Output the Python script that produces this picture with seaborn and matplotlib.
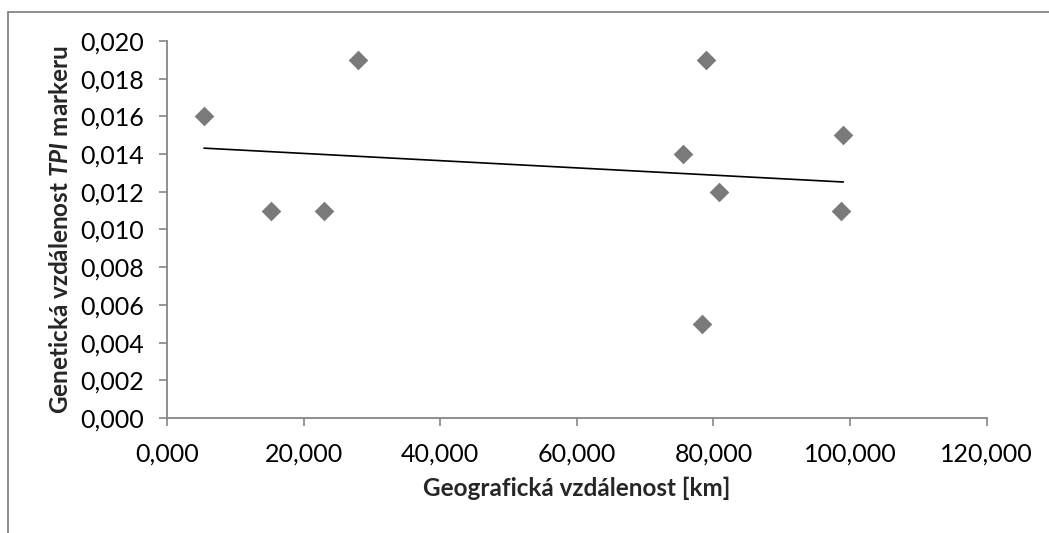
import matplotlib
matplotlib.use("Agg")
import matplotlib.pyplot as plt
import seaborn as sns
import pandas as pd
from matplotlib.ticker import FuncFormatter, MultipleLocator
from matplotlib.lines import Line2D

# Data (Czech decimal comma in labels)
geo_km = [5.42, 15.23, 22.99, 27.97, 78.92, 75.60, 80.82, 99.02, 98.73, 78.38]
gen_dist = [0.016, 0.011, 0.011, 0.019, 0.019, 0.014, 0.012, 0.015, 0.011, 0.005]
x_label = "Geografická vzdálenost [km]"
y_label_parts = ["Genetická vzdálenost ", "TPI", " markeru"]

df = pd.DataFrame({"x": geo_km, "y": gen_dist})

sns.set_theme(style="white")
FONT = "Lato"
plt.rcParams["font.family"] = [FONT, "DejaVu Sans"]
plt.rcParams["mathtext.fontset"] = "custom"
plt.rcParams["mathtext.bfit"] = f"{FONT}:italic:bold"
plt.rcParams["mathtext.bf"] = f"{FONT}:bold"
plt.rcParams["mathtext.rm"] = FONT
plt.rcParams["mathtext.it"] = f"{FONT}:italic"

fig = plt.figure(figsize=(10.49, 5.33), dpi=100)
ax = fig.add_axes([0.1592, 0.2158, 0.9406 - 0.1592, 0.9231 - 0.2158])

sns.regplot(data=df, x="x", y="y", ax=ax, ci=None, truncate=True,
            marker="D",
            scatter_kws=dict(s=100, color="#595959", linewidths=0, zorder=3),
            line_kws=dict(color="black", linewidth=1.2, zorder=2))

ax.set_xlim(0, 120)
ax.set_ylim(0, 0.020)
ax.xaxis.set_major_locator(MultipleLocator(20))
ax.yaxis.set_major_locator(MultipleLocator(0.002))
fmt = FuncFormatter(lambda v, p: f"{v:.3f}".replace(".", ","))
ax.xaxis.set_major_formatter(fmt)
ax.yaxis.set_major_formatter(fmt)

grey = "#868686"
for s in ["top", "right"]:
    ax.spines[s].set_visible(False)
for s in ["left", "bottom"]:
    ax.spines[s].set_color(grey)
    ax.spines[s].set_linewidth(1.3)

ax.tick_params(axis="both", which="major", direction="out", length=5.5,
               width=1.2, color=grey, labelsize=18, labelcolor="black")
ax.tick_params(axis="y", pad=11, left=True)
ax.tick_params(axis="x", pad=12, bottom=True)

ax.set_xlabel(x_label, fontsize=17.5, fontweight="bold", labelpad=8)
ax.set_ylabel(y_label_parts[0] + r"$\mathbfit{" + y_label_parts[1] + "}$" + y_label_parts[2],
              fontsize=17.5, fontweight="bold", labelpad=6)

# outer chart frame (Excel chart area border)
fig.add_artist(Line2D([8 / 1049, 8 / 1049], [0, 1 - 12 / 533], color=grey, lw=1.3,
                      transform=fig.transFigure))
fig.add_artist(Line2D([8 / 1049, 1.0], [1 - 12 / 533, 1 - 12 / 533], color=grey, lw=1.3,
                      transform=fig.transFigure))

fig.savefig("out.png", dpi=100)
